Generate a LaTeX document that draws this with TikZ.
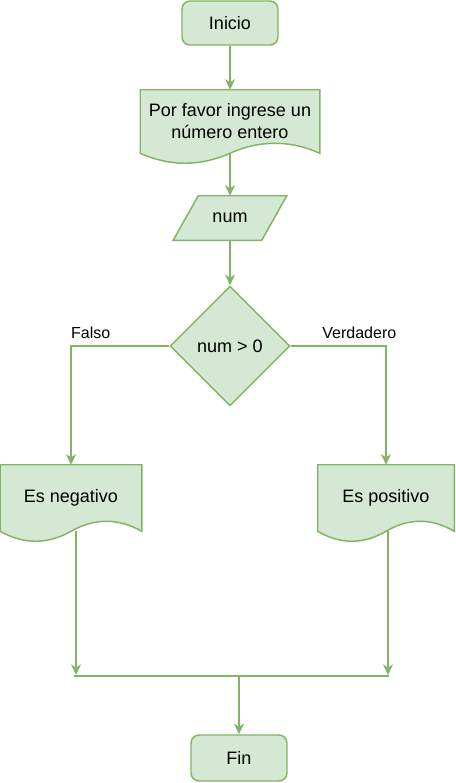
\documentclass[tikz,border=0pt]{standalone}
\usepackage{fontspec}
\setmainfont{Liberation Sans}
\usetikzlibrary{positioning,calc,arrows.meta,shapes.geometric,backgrounds}
\definecolor{boxfill}{HTML}{D5E8D4}
\definecolor{boxline}{HTML}{82B366}
\tikzstyle{edge} = [-{Stealth[length=8pt,width=7.5pt,inset=2.5pt]}, draw=boxline, line width=1.1pt]
\tikzstyle{joinline} = [draw=boxline, line width=1.1pt]
\tikzstyle{symbol} = [fill=boxfill, draw=boxline, line width=1.1pt]
\tikzstyle{term} = [rectangle, rounded corners=6pt, draw=boxline, fill=boxfill, line width=1.1pt, minimum width=72pt, minimum height=33pt]
\tikzstyle{doc} = [rectangle, inner sep=0pt]
\tikzstyle{cond} = [diamond, aspect=1, draw=boxline, fill=boxfill, line width=1.1pt, minimum width=90pt, minimum height=90pt, inner sep=0pt]
\tikzstyle{lbl} = [font=\fontsize{12}{14}\selectfont, above=4pt]

\begin{document}
\begin{tikzpicture}[x=0.75pt, y=-0.75pt]
\tikzstyle{every node}=[align=center, inner sep=1pt, font=\fontsize{13.5}{16.5}\selectfont]
	\useasboundingbox (0,0) rectangle (456,783);
	\node[term] (inicio) at (230, 23) {Inicio};
	\node[doc, minimum width=134.25pt, minimum height=47.25pt] (pedir) at (230, 121.5) {Por favor ingrese un\\número entero};
	\node[doc, minimum width=66pt, minimum height=33pt] (num) at (230, 218) {num};
	\node[cond] (test) at (230, 346) {num > 0};
	\node[doc, minimum width=105.75pt, minimum height=49.5pt] (negativo) at (71, 498) {Es negativo};
	\node[doc, minimum width=102pt, minimum height=49.5pt] (positivo) at (386, 498) {Es positivo};
	\node[term, minimum height=34.5pt] (fin) at (239, 758) {Fin};
	\coordinate (izq) at (74, 676);
	\coordinate (der) at (389, 676);
	\coordinate (medio) at (239, 676);
	\coordinate (finizq) at (76, 675);
	\coordinate (finder) at (388, 675);

	\begin{scope}[on background layer]
	\filldraw[symbol] ($(num.south west)+(-9.4pt,0)$) -- ($(num.south east)+(-9.4pt,0)$) -- ($(num.north east)+(9.4pt,0)$) -- ($(num.north west)+(9.4pt,0)$) -- cycle;
	\foreach \nm in {pedir, negativo, positivo}
		\filldraw[symbol] (\nm.north west) -- (\nm.north east) -- (\nm.south east)
			.. controls ($(\nm.south east)!1/3!(\nm.south)+(0,10pt)$) and ($(\nm.south)!1/3!(\nm.south east)+(0,10pt)$) .. (\nm.south)
			.. controls ($(\nm.south)!1/3!(\nm.south west)+(0,-10pt)$) and ($(\nm.south west)!1/3!(\nm.south)+(0,-10pt)$) .. (\nm.south west) -- cycle;
	\end{scope}

	\draw[edge] (inicio) -- (pedir);
	\draw[edge] (pedir.south) -- (num.north);
	\draw[edge] (num.south) -- (test);
	\draw[edge] (test.west) -| node[lbl, pos=0.4] {Falso} (negativo.north);
	\draw[edge] (test.east) -| node[lbl, pos=0.36] {Verdadero} (positivo.north);
	\draw[edge] (negativo.south -| finizq) -- (finizq);
	\draw[edge] (positivo.south -| finder) -- (finder);
	\draw[joinline] (izq) -- (der);
	\draw[edge] (medio) -- (fin);
\end{tikzpicture}
\end{document}
